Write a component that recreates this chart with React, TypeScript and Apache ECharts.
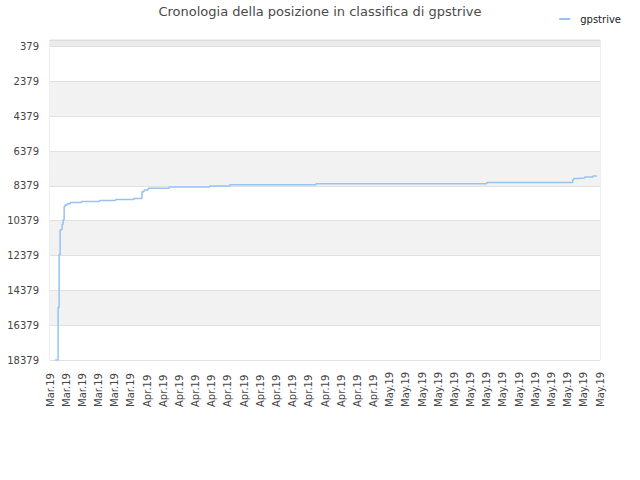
import React, { useEffect, useRef } from 'react';
import * as echarts from 'echarts';

// x axis: one category per 3-hour slot, labelled by month
const monthLabels = ['Mar.19', 'Apr.19', 'May.19'];
const daysInRange = [12, 30, 27];
const slotsPerDay = 8;
const totalSlots = 545;

// rank changes (slot index -> position in classifica)
const changeSlots = [5, 8, 9, 10, 12, 13, 14, 15, 17, 20, 31, 49, 65, 83, 91, 93, 97, 118, 158, 178, 263, 432, 517, 518, 521, 529, 537, 541];
const rankValues = [18379, 15370, 12340, 10900, 10580, 10330, 9560, 9470, 9400, 9330, 9280, 9220, 9160, 9100, 8720, 8610, 8520, 8450, 8390, 8320, 8260, 8180, 8030, 7950, 7930, 7870, 7815, 7815];

// y axis ticks
const yTickValues = [379, 2379, 4379, 6379, 8379, 10379, 12379, 14379, 16379, 18379];

const categories: string[] = [];
monthLabels.forEach((m, k) => {
  for (let d = 0; d < daysInRange[k] * slotsPerDay; d++) categories.push(m);
});
categories.length = totalSlots;

const seriesData: (number | null)[] = categories.map(() => null);
changeSlots.forEach((s, k) => {
  seriesData[s] = rankValues[k];
});

const font = 'DejaVu Sans';
const lineColor = '#95c4f3';

const App: React.FC = () => {
  const chartRef = useRef<HTMLDivElement>(null);

  useEffect(() => {
    if (!chartRef.current) return;
    const chart = echarts.init(chartRef.current, null, { renderer: 'svg' });

    const option: echarts.EChartsOption = {
      animation: false,
      textStyle: { fontFamily: font },
      title: {
        text: 'Cronologia della posizione in classifica di gpstrive',
        left: 'center',
        top: 5,
        padding: 0,
        textStyle: { fontSize: 13, fontWeight: 'normal', color: '#4a4a4a', fontFamily: font },
      },
      legend: {
        data: [{ name: 'gpstrive', icon: 'rect' }],
        right: 14,
        top: 9,
        itemWidth: 11,
        itemHeight: 2,
        textStyle: { fontSize: 10, color: '#222', fontFamily: font, padding: [0, 0, 0, 5] },
      },
      grid: {
        left: 50,
        right: 40,
        top: 40,
        bottom: 120,
        show: true,
        borderColor: '#dddddd',
        borderWidth: 1,
      },
      xAxis: {
        type: 'category',
        data: categories,
        boundaryGap: false,
        axisLine: { lineStyle: { color: '#dddddd' } },
        axisTick: { show: false },
        splitLine: { show: false },
        axisLabel: {
          interval: slotsPerDay * 2 - 1,
          rotate: 90,
          align: 'left',
          margin: 47,
          fontSize: 10,
          color: '#444',
          fontFamily: font,
        },
      },
      yAxis: {
        type: 'value',
        inverse: true,
        min: 0,
        max: 18379,
        axisLine: { show: false },
        axisTick: { show: false, customValues: [0, ...yTickValues] },
        axisLabel: {
          customValues: yTickValues,
          formatter: (v: number) => String(v),
          fontSize: 10,
          color: '#444',
          margin: 11,
          fontFamily: font,
        },
        splitLine: { show: true, lineStyle: { color: '#e0e0e0' } },
        splitArea: {
          show: true,
          areaStyle: {
            color: ['#ebebeb', '#ffffff', '#f2f2f2', '#ffffff', '#f2f2f2', '#ffffff', '#f2f2f2', '#ffffff', '#f2f2f2', '#ffffff'],
          },
        },
      } as any,
      series: [
        {
          name: 'gpstrive',
          type: 'line',
          data: seriesData,
          step: 'end',
          connectNulls: true,
          symbol: 'none',
          itemStyle: { color: lineColor },
          lineStyle: { color: lineColor, width: 1.5 },
        },
      ],
    };

    chart.setOption(option);
    return () => {
      chart.dispose();
    };
  }, []);

  return (
    <div
      ref={chartRef}
      style={{ position: 'absolute', left: 0, top: 0, width: '640px', height: '480px' }}
    />
  );
};

export default App;
